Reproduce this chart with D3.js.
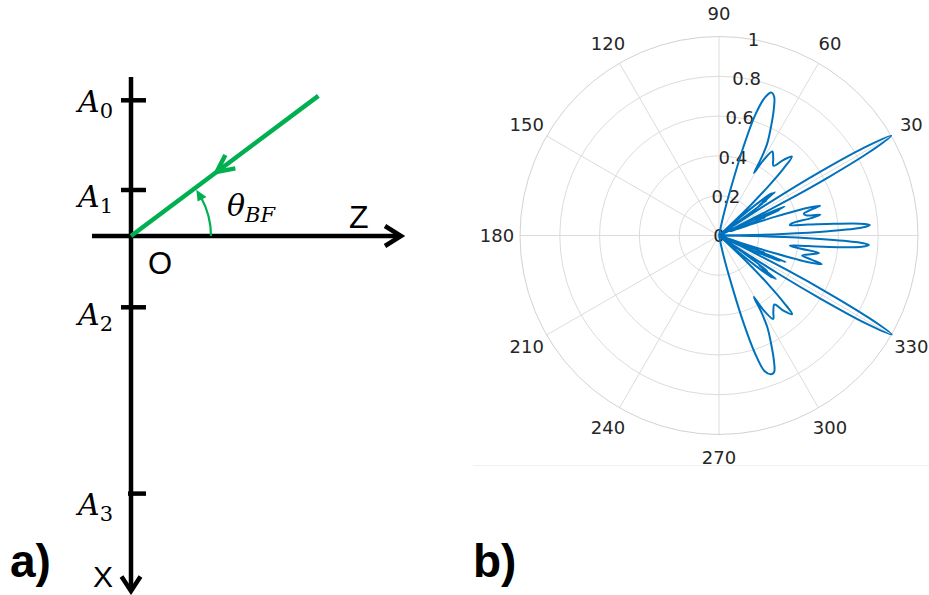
<!DOCTYPE html>
<html>
<head>
<meta charset="utf-8">
<script src="https://cdn.jsdelivr.net/npm/d3@7"></script>
<style>
  html, body { margin: 0; padding: 0; background: #ffffff; }
  svg { display: block; }
</style>
</head>
<body>
<svg id="fig" width="929" height="595"></svg>
<script>
// ---------------- data ----------------
// a) linear array: element subscripts and positions along X (in units of d)
const sensorNames = ["0", "1", "2", "3"];
const sensorPos = [-2.95, -1.0, 1.55, 5.6];
// beam-forming direction θ_BF, degrees from the Z axis
const beamAngle = 36.8;

// b) polar axes
const angleTicks = [0, 30, 60, 90, 120, 150, 180, 210, 240, 270, 300, 330];
const radiusTicks = [0, 0.2, 0.4, 0.6, 0.8, 1];
const radiusTickLabels = ["0", "0.2", "0.4", "0.6", "0.8", "1"];

// normalised array response: direction (deg) and magnitude
const patternAngle = [
  90, 80, 77.5, 75.8, 74.6, 73.3, 71.6, 69.8, 68.3, 66.5, 64.3, 62.3, 61.3, 60.8,
  59.6, 57.6, 55.0, 52.0, 49.5, 47.3, 46.1, 45.0, 43.8, 42.5, 41.5,
  40.8, 39.8, 38.8, 38.3, 37.7, 37.0, 36.4, 35.6, 34.6,
  33.8, 33.0, 32.2, 31.2, 30.1, 29.0, 28.0, 27.2, 26.3, 25.6,
  25.0, 24.4, 23.9, 23.3, 22.8, 22.2, 21.4, 20.6,
  19.6, 18.4, 17.3, 16.4, 15.5, 14.4, 13.0, 11.6, 10.7, 9.4, 8.4,
  7.0, 5.8, 4.8, 4.0, 3.2, 2.2, 1.3, 0.5, 0,
  -0.5, -1.3, -2.2, -3.0, -3.6, -4.5, -5.6, -6.8, -8.0,
  -9.0, -9.9, -11.2, -13.5, -14.6, -15.6, -16.6, -17.6, -18.6, -19.4,
  -20.1, -20.7, -21.2, -21.7, -22.3, -22.9, -23.6, -24.4, -25.2,
  -26.0, -26.9, -27.8, -28.8, -29.8, -30.9, -31.9, -32.8, -33.6, -34.4,
  -35.3, -36.1, -36.8, -37.4, -38.0, -38.6, -39.5, -40.5, -41.4,
  -42.4, -43.7, -44.9, -46.0, -47.1, -49.3, -51.2, -54.5, -57.0, -59.3, -60.5,
  -61.1, -62.2, -64.2, -66.4, -68.0, -69.4, -71.4, -73.0, -74.3, -75.6, -77.4, -80, -90
];
const patternGain = [
  0, 0, 0.10, 0.26, 0.46, 0.63, 0.73, 0.765, 0.75, 0.69, 0.60, 0.52, 0.44, 0.36,
  0.43, 0.50, 0.475, 0.445, 0.50, 0.54, 0.47, 0.36, 0.22, 0.05, 0,
  0.12, 0.26, 0.34, 0.28, 0.355, 0.25, 0.30, 0.12, 0,
  0.10, 0.35, 0.60, 0.85, 1.0, 0.86, 0.62, 0.38, 0.10, 0,
  0.12, 0.26, 0.36, 0.27, 0.33, 0.20, 0.25, 0.06,
  0.10, 0.30, 0.47, 0.53, 0.47, 0.44, 0.45, 0.52, 0.47, 0.37, 0.36,
  0.45, 0.58, 0.71, 0.76, 0.72, 0.55, 0.32, 0.10, 0,
  0.10, 0.33, 0.56, 0.72, 0.755, 0.72, 0.60, 0.45, 0.36,
  0.40, 0.51, 0.48, 0.43, 0.48, 0.535, 0.47, 0.30, 0.10, 0,
  0.10, 0.25, 0.20, 0.36, 0.28, 0.33, 0.22, 0.10, 0,
  0.12, 0.38, 0.62, 0.86, 1.0, 0.86, 0.60, 0.35, 0.10, 0,
  0.12, 0.30, 0.25, 0.36, 0.28, 0.34, 0.25, 0.12, 0,
  0.05, 0.22, 0.36, 0.47, 0.54, 0.50, 0.445, 0.47, 0.50, 0.43, 0.355,
  0.44, 0.52, 0.60, 0.69, 0.74, 0.745, 0.72, 0.62, 0.46, 0.26, 0.10, 0, 0
];

// ---------------- drawing ----------------
const svg = d3.select("#fig");
svg.append("rect").attr("width", 929).attr("height", 595).attr("fill", "#ffffff");

const rad = d => d * Math.PI / 180;
const green = "#00b050";
const ink = "#000000";

// ===== a) geometry sketch =====
const ox = 131, oy = 236;                       // origin O
const dScale = d3.scaleLinear().domain([0, 1]).range([oy, oy + 46]);
const sk = svg.append("g");

// X axis (vertical, pointing down)
sk.append("line").attr("x1", ox).attr("y1", 77).attr("x2", ox).attr("y2", 590)
  .attr("stroke", ink).attr("stroke-width", 4.5);
sk.append("path").attr("d", `M${ox - 9.5},576.5 L${ox},591 L${ox + 9.5},576.5`)
  .attr("fill", "none").attr("stroke", ink).attr("stroke-width", 4.5)
  .attr("stroke-linejoin", "miter");

// Z axis (horizontal, pointing right)
sk.append("line").attr("x1", 92).attr("y1", oy).attr("x2", 400).attr("y2", oy)
  .attr("stroke", ink).attr("stroke-width", 4.5);
sk.append("path").attr("d", `M385,${oy - 10} L401,${oy} L385,${oy + 10}`)
  .attr("fill", "none").attr("stroke", ink).attr("stroke-width", 4.5)
  .attr("stroke-linejoin", "miter");

// array element ticks and labels
const labelDy = [12, 17, 18, 21];
sensorPos.forEach((p, i) => {
  const y = dScale(p);
  sk.append("line").attr("x1", i === 3 ? 128 : 121).attr("x2", 146)
    .attr("y1", y).attr("y2", y).attr("stroke", ink).attr("stroke-width", 4.5);
  const t = sk.append("text").attr("x", 113).attr("y", y + labelDy[i])
    .attr("text-anchor", "end")
    .style("font-family", "'DejaVu Serif', serif").style("font-style", "italic")
    .style("font-size", "30px").attr("fill", ink);
  t.append("tspan").text("A");
  t.append("tspan").attr("dy", 6).style("font-size", "21px").style("font-style", "normal")
    .text(sensorNames[i]);
});

// axis letters
const sans = "'Liberation Sans', Arial, sans-serif";
sk.append("text").attr("x", 349).attr("y", 228).text("Z")
  .style("font-family", sans).style("font-size", "32px").attr("fill", ink);
sk.append("text").attr("x", 148).attr("y", 274).text("O")
  .style("font-family", sans).style("font-size", "31px").attr("fill", ink);
sk.append("text").attr("x", 93).attr("y", 587).text("X")
  .style("font-family", sans).style("font-size", "30px").attr("fill", ink);

// beam direction
const beamLen = 234;
const bx = ox + beamLen * Math.cos(rad(beamAngle));
const by = oy - beamLen * Math.sin(rad(beamAngle));
sk.append("line").attr("x1", ox).attr("y1", oy).attr("x2", bx).attr("y2", by)
  .attr("stroke", green).attr("stroke-width", 4.5).attr("stroke-linecap", "butt");
// open arrowhead on the beam, pointing toward O
{
  const tipD = 107, armL = 19, half = rad(26);
  const ux = Math.cos(rad(beamAngle)), uy = -Math.sin(rad(beamAngle));
  const tx = ox + tipD * ux, ty = oy + tipD * uy;
  const rot = (a) => [ux * Math.cos(a) - uy * Math.sin(a), ux * Math.sin(a) + uy * Math.cos(a)];
  const a1 = rot(half), a2 = rot(-half);
  sk.append("path")
    .attr("d", `M${tx + armL * a1[0]},${ty + armL * a1[1]} L${tx},${ty} L${tx + armL * a2[0]},${ty + armL * a2[1]}`)
    .attr("fill", "none").attr("stroke", green).attr("stroke-width", 4.5)
    .attr("stroke-linejoin", "miter");
}
// angle arc with small arrowhead
{
  const ar = 80;
  const arc = d3.arc().innerRadius(ar).outerRadius(ar)
    .startAngle(rad(90)).endAngle(rad(90 - (beamAngle - 8)));
  sk.append("path").attr("transform", `translate(${ox},${oy})`).attr("d", arc())
    .attr("fill", "none").attr("stroke", green).attr("stroke-width", 2.2);
  const phiTip = rad(beamAngle - 1.5), phiBase = rad(beamAngle - 9.5);
  const tip = [ox + ar * Math.cos(phiTip), oy - ar * Math.sin(phiTip)];
  const b1 = [ox + (ar - 5) * Math.cos(phiBase), oy - (ar - 5) * Math.sin(phiBase)];
  const b2 = [ox + (ar + 5) * Math.cos(phiBase), oy - (ar + 5) * Math.sin(phiBase)];
  sk.append("path").attr("d", `M${tip} L${b1} L${b2} Z`).attr("fill", green);
}

// θ_BF label
{
  const t = sk.append("text").attr("x", 227).attr("y", 216)
    .style("font-family", "'DejaVu Serif', serif").style("font-style", "italic")
    .style("font-size", "30px").attr("fill", ink);
  t.append("tspan").text("θ");
  t.append("tspan").attr("dy", 6).style("font-size", "21px").text("BF");
}

// panel letters
svg.append("text").attr("x", 10).attr("y", 577).text("a)")
  .style("font-family", sans).style("font-weight", "bold").style("font-size", "46px").attr("fill", ink);
svg.append("text").attr("x", 473).attr("y", 577).text("b)")
  .style("font-family", sans).style("font-weight", "bold").style("font-size", "46px").attr("fill", ink);

// ===== b) polar pattern =====
const cx = 719, cy = 235.5, R = 199;
const rScale = d3.scaleLinear().domain([0, 1]).range([0, R]);
const gridColor = "#dcdcdc";
const tickColor = "#262626";
const tickFont = "'DejaVu Sans', sans-serif";

// faint frame edge under the plot
svg.append("line").attr("x1", 473).attr("x2", 929).attr("y1", 465.5).attr("y2", 465.5)
  .attr("stroke", "#f1f1f1").attr("stroke-width", 1);

const pg = svg.append("g").attr("transform", `translate(${cx},${cy})`);

pg.selectAll("line.spoke").data(angleTicks).join("line").attr("class", "spoke")
  .attr("x1", 0).attr("y1", 0)
  .attr("x2", d => R * Math.cos(rad(d))).attr("y2", d => -R * Math.sin(rad(d)))
  .attr("stroke", gridColor).attr("stroke-width", 1);

pg.selectAll("circle.ring").data(radiusTicks.filter(d => d > 0)).join("circle").attr("class", "ring")
  .attr("r", d => rScale(d)).attr("fill", "none")
  .attr("stroke", d => d === 1 ? "#d2d2d2" : gridColor).attr("stroke-width", 1);

// angle tick labels
const labR = R * 1.116;
pg.selectAll("text.ang").data(angleTicks).join("text").attr("class", "ang")
  .attr("x", d => labR * Math.cos(rad(d))).attr("y", d => -labR * Math.sin(rad(d)))
  .attr("text-anchor", "middle").attr("dominant-baseline", "central")
  .style("font-family", tickFont).style("font-size", "18px").attr("fill", tickColor)
  .text(d => d);

// radius tick labels along 80°
pg.selectAll("text.rad").data(radiusTicks).join("text").attr("class", "rad")
  .attr("x", d => rScale(d) * Math.cos(rad(80))).attr("y", d => -rScale(d) * Math.sin(rad(80)))
  .attr("text-anchor", "middle").attr("dominant-baseline", "central")
  .style("font-family", tickFont).style("font-size", "18px").attr("fill", tickColor)
  .text((d, i) => radiusTickLabels[i]);

// response curve
const pts = patternAngle.map((a, i) => [a, patternGain[i]]);
const radial = d3.lineRadial()
  .angle(d => rad(90 - d[0]))
  .radius(d => rScale(d[1]))
  .curve(d3.curveCatmullRom.alpha(0.5));
pg.append("path").attr("d", radial(pts))
  .attr("fill", "none").attr("stroke", "#0072bd").attr("stroke-width", 2)
  .attr("stroke-linejoin", "round");
</script>
</body>
</html>
